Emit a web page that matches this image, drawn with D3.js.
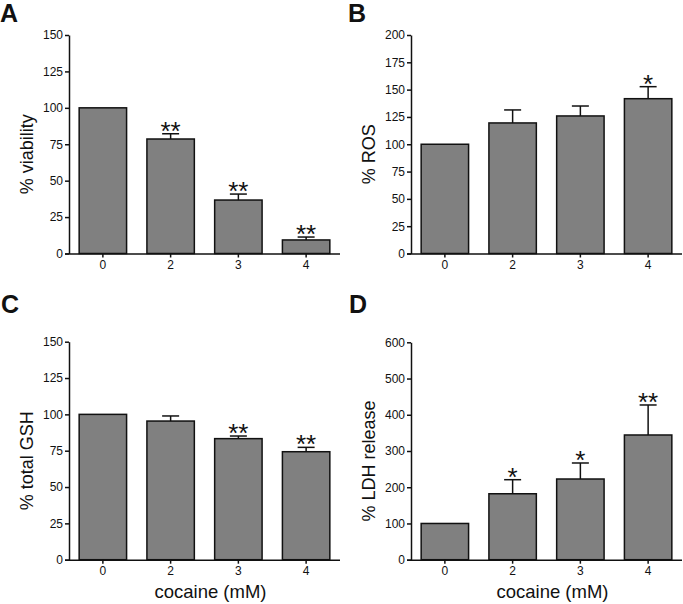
<!DOCTYPE html>
<html>
<head>
<meta charset="utf-8">
<script src="https://cdn.jsdelivr.net/npm/d3@7"></script>
<style>
  body { margin: 0; background: #fff; }
  svg { display: block; }
  text { font-family: "Liberation Sans", Arial, sans-serif; fill: #111; }
</style>
</head>
<body>
<svg id="chart" width="683" height="604"></svg>
<script>
// ---- data ----
const categories = ["0", "2", "3", "4"];

const viability    = [100, 78.6, 36.7, 9.3];
const viabilityErr = [0, 3.6, 4.1, 2.0];
const viabilitySig = ["", "**", "**", "**"];
const viabilityTicks = [0, 25, 50, 75, 100, 125, 150];

const ros    = [100, 119.5, 125.9, 141.7];
const rosErr = [0, 11.9, 9.1, 11.0];
const rosSig = ["", "", "", "*"];
const rosTicks = [0, 25, 50, 75, 100, 125, 150, 175, 200];

const gsh    = [100, 95.4, 83.3, 74.3];
const gshErr = [0, 3.5, 1.8, 3.0];
const gshSig = ["", "", "**", "**"];
const gshTicks = [0, 25, 50, 75, 100, 125, 150];

const ldh    = [100, 182, 222.7, 344.2];
const ldhErr = [0, 38.8, 44.2, 82.8];
const ldhSig = ["", "*", "*", "**"];
const ldhTicks = [0, 100, 200, 300, 400, 500, 600];

const panelLetters = ["A", "B", "C", "D"];
const yLabels = ["% viability", "% ROS", "% total GSH", "% LDH release"];
const xLabel = "cocaine (mM)";

// ---- layout ----
const svg = d3.select("#chart");

const panels = [
  { letter: panelLetters[0], ylab: yLabels[0], vals: viability, err: viabilityErr, sig: viabilitySig, ticks: viabilityTicks,
    x0: 69, x1: 340, yTop: 35, yBot: 253.5, lx: 0, ly: 22, showX: false },
  { letter: panelLetters[1], ylab: yLabels[1], vals: ros, err: rosErr, sig: rosSig, ticks: rosTicks,
    x0: 411, x1: 682, yTop: 35, yBot: 253.5, lx: 348, ly: 22, showX: false },
  { letter: panelLetters[2], ylab: yLabels[2], vals: gsh, err: gshErr, sig: gshSig, ticks: gshTicks,
    x0: 69, x1: 340, yTop: 341.7, yBot: 559.7, lx: 1, ly: 313, showX: true },
  { letter: panelLetters[3], ylab: yLabels[3], vals: ldh, err: ldhErr, sig: ldhSig, ticks: ldhTicks,
    x0: 411, x1: 682, yTop: 342.3, yBot: 559.7, lx: 349, ly: 313, showX: true }
];

panels.forEach(p => {
  const g = svg.append("g");
  const x = d3.scaleBand().domain(categories).range([p.x0, p.x1]).paddingInner(0.3).paddingOuter(0.15);
  const yMax = p.ticks[p.ticks.length - 1];
  const y = d3.scaleLinear().domain([0, yMax]).range([p.yBot, p.yTop]);

  // bars
  g.selectAll("rect.bar").data(p.vals).join("rect")
    .attr("class", "bar")
    .attr("x", (d, i) => x(categories[i]))
    .attr("width", x.bandwidth())
    .attr("y", d => y(d))
    .attr("height", d => y(0) - y(d))
    .attr("fill", "#808080")
    .attr("stroke", "#111")
    .attr("stroke-width", 1.5);

  // error bars (upper only)
  const capHalf = 8.5;
  p.vals.forEach((v, i) => {
    if (!p.err[i]) return;
    const cx = x(categories[i]) + x.bandwidth() / 2;
    g.append("line").attr("x1", cx).attr("x2", cx)
      .attr("y1", y(v)).attr("y2", y(v + p.err[i]))
      .attr("stroke", "#111").attr("stroke-width", 1.5);
    g.append("line").attr("x1", cx - capHalf).attr("x2", cx + capHalf)
      .attr("y1", y(v + p.err[i])).attr("y2", y(v + p.err[i]))
      .attr("stroke", "#111").attr("stroke-width", 1.5);
  });

  // significance stars
  p.sig.forEach((s, i) => {
    if (!s) return;
    const cx = x(categories[i]) + x.bandwidth() / 2;
    g.append("text").attr("x", cx).attr("y", y(p.vals[i] + p.err[i]) + 6)
      .attr("text-anchor", "middle").attr("font-size", 26).attr("fill", "#222").text(s);
  });

  // y axis
  const ya = g.append("g").attr("transform", `translate(${p.x0},0)`)
    .call(d3.axisLeft(y).tickValues(p.ticks).tickSize(4).tickSizeOuter(0).tickPadding(2));
  ya.selectAll("path, line").attr("stroke", "#111").attr("stroke-width", 1.5);
  ya.selectAll("text").attr("font-size", 12).attr("font-family", "Liberation Sans, Arial, sans-serif").attr("fill", "#222");

  // x axis
  const xa = g.append("g").attr("transform", `translate(0,${p.yBot})`)
    .call(d3.axisBottom(x).tickSize(4).tickSizeOuter(0).tickPadding(2));
  xa.select("path.domain").attr("d", `M${p.x0 - 4},0.5H${p.x1}`);
  xa.selectAll("path, line").attr("stroke", "#111").attr("stroke-width", 1.5);
  xa.selectAll("text").attr("font-size", 12).attr("font-family", "Liberation Sans, Arial, sans-serif")
    .attr("fill", "#222").attr("dy", null).attr("y", 15.5);

  // y label
  const cy = (p.yTop + p.yBot) / 2 + 10;
  g.append("text").attr("transform", `translate(${p.x0 - 36},${cy}) rotate(-90)`)
    .attr("text-anchor", "middle").attr("font-size", 18).attr("fill", "#111").text(p.ylab);

  // x label
  if (p.showX) {
    g.append("text").attr("x", (p.x0 + p.x1) / 2 + 6).attr("y", 598)
      .attr("text-anchor", "middle").attr("font-size", 18.5).attr("fill", "#111").text(xLabel);
  }

  // panel letter
  g.append("text").attr("x", p.lx).attr("y", p.ly)
    .attr("font-size", 25).attr("font-weight", "bold").attr("fill", "#000").text(p.letter);
});
</script>
</body>
</html>
